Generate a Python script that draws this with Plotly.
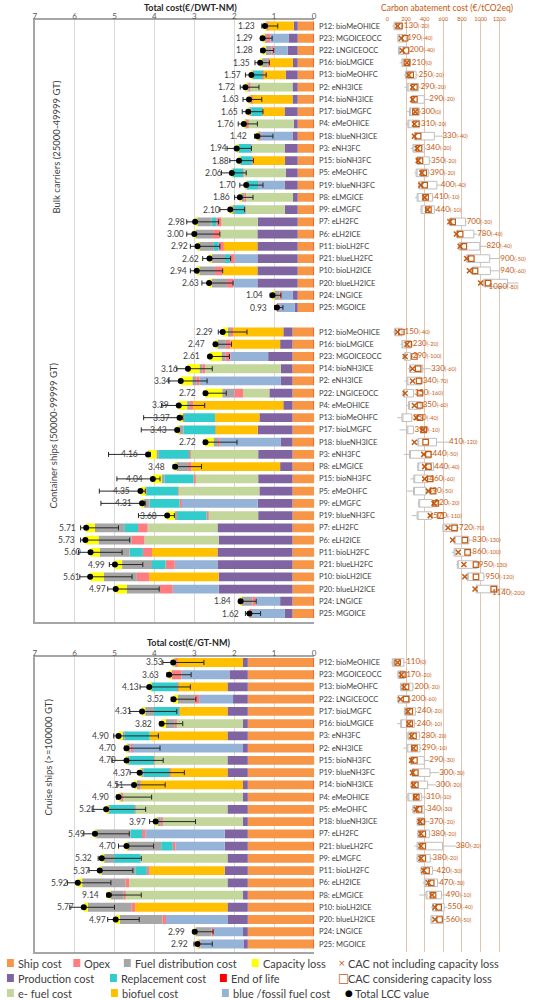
import plotly.graph_objects as go

FONT = "Lato"

# ---------------------------------------------------------------- data
# ---- Bulk carriers (25000-49999 GT), cost in EUR/DWT-NM
BULK_NAMES = ["P12: bioMeOHICE", "P23: MGOICEOCC", "P22: LNGICEOCC", "P16: bioLMGICE",
              "P13: bioMeOHFC", "P2: eNH3ICE", "P14: bioNH3ICE", "P17: bioLMGFC",
              "P4: eMeOHICE", "P18: blueNH3ICE", "P3: eNH3FC", "P15: bioNH3FC",
              "P5: eMeOHFC", "P19: blueNH3FC", "P8: eLMGICE", "P9: eLMGFC",
              "P7: eLH2FC", "P6: eLH2ICE", "P11: bioLH2FC", "P21: blueLH2FC",
              "P10: bioLH2ICE", "P20: blueLH2ICE", "P24: LNGICE", "P25: MGOICE"]
BULK_SHIP = [0.41, 0.41, 0.41, 0.41, 0.41, 0.41, 0.41, 0.41, 0.41, 0.41, 0.41, 0.41,
             0.41, 0.41, 0.41, 0.41, 0.41, 0.41, 0.41, 0.41, 0.41, 0.41, 0.41, 0.41]
BULK_PROD = [0.10, 0.23, 0.25, 0.12, 0.30, 0.13, 0.13, 0.33, 0.10, 0.13, 0.32, 0.32,
             0.30, 0.32, 0.12, 0.32, 1.00, 1.01, 1.01, 1.01, 1.01, 1.01, 0.12, 0.07]
BULK_FUEL = [0.63, 0.46, 0.35, 0.59, 0.57, 1.05, 1.02, 0.55, 1.15, 0.81, 0.84, 0.82,
             1.06, 0.66, 1.17, 0.99, 0.91, 0.94, 0.84, 0.57, 0.88, 0.60, 0.30, 0.40]
BULK_FTYPE = ["bio", "blue", "blue", "bio", "bio", "e", "bio", "bio", "e", "blue", "e", "bio",
              "e", "blue", "e", "e", "e", "e", "bio", "blue", "bio", "blue", "blue", "blue"]
BULK_OPEX = [0.05, 0.10, 0.06, 0.04, 0.01, 0.05, 0.03, 0.01, 0.05, 0.03, 0.01, 0.01,
             0.01, 0.01, 0.05, 0.01, 0.13, 0.17, 0.13, 0.12, 0.18, 0.16, 0.03, 0.05]
BULK_REPL = [0, 0, 0, 0, 0.24, 0, 0, 0.27, 0, 0, 0.31, 0.29,
             0.26, 0.28, 0, 0.28, 0.12, 0, 0.12, 0.12, 0, 0, 0, 0]
BULK_DIST = [0.02, 0.04, 0.14, 0.14, 0.01, 0.03, 0.02, 0.05, 0.02, 0.02, 0.02, 0.01,
             0.01, 0.01, 0.07, 0.04, 0.37, 0.44, 0.37, 0.34, 0.41, 0.38, 0.14, 0.0]
BULK_CAP = [0.02, 0.05, 0.07, 0.05, 0.03, 0.05, 0.02, 0.03, 0.03, 0.02, 0.03, 0.02,
            0.01, 0.01, 0.04, 0.05, 0.04, 0.03, 0.04, 0.05, 0.05, 0.07, 0.04, 0.0]
BULK_EOL = [-0.01, -0.01, -0.01, -0.01, -0.02, -0.01, -0.01, -0.02, -0.01, -0.01, -0.02, -0.02,
            -0.02, -0.02, -0.01, -0.02, -0.04, -0.04, -0.04, -0.04, -0.04, -0.04, -0.01, -0.01]
BULK_TOTAL = [1.23, 1.29, 1.28, 1.35, 1.57, 1.72, 1.63, 1.65, 1.76, 1.42, 1.94, 1.88,
              2.06, 1.70, 1.86, 2.10, 2.98, 3.00, 2.92, 2.62, 2.94, 2.63, 1.04, 0.93]
BULK_LABEL = ["1.23", "1.29", "1.28", "1.35", "1.57", "1.72", "1.63", "1.65", "1.76", "1.42",
              "1.94", "1.88", "2.06", "1.70", "1.86", "2.10", "2.98", "3.00", "2.92", "2.62",
              "2.94", "2.63", "1.04", "0.93"]
BULK_HIGH = [1.31, 1.33, 1.33, 1.48, 1.72, 1.85, 1.78, 1.80, 1.90, 1.49, 2.18, 2.11,
             2.32, 1.86, 1.99, 2.36, 3.19, 3.19, 3.10, 2.79, 3.10, 2.81, 1.10, 0.99]
BULK_LOW = [0.91, 1.05, 1.01, 1.12, 1.20, 1.38, 1.31, 1.28, 1.42, 1.03, 1.57, 1.52,
            1.70, 1.28, 1.53, 1.74, 2.39, 2.36, 2.36, 2.09, 2.29, 2.03, 0.83, 0.78]
# carbon abatement cost (EUR/tCO2eq), first 22 rows
BULK_CAC = [130, 190, 200, 210, 250, 290, 290, 300, 310, 330, 340, 350,
            390, 400, 410, 440, 700, 780, 820, 900, 940, 1080]
BULK_CAC_DIFF = [-20, -40, -40, 0, -20, -20, -20, 0, -20, -40, -20, -20,
                 -20, -40, -10, -10, -30, -40, -40, -50, -60, -80]
BULK_Q1 = [71, 113, 120, 156, 195, 212, 262, 237, 220, 290, 273, 319,
           308, 336, 319, 361, 673, 743, 768, 850, 910, 1034]
BULK_Q3 = [156, 202, 227, 248, 308, 333, 396, 343, 343, 503, 396, 450,
           439, 531, 485, 503, 839, 927, 991, 1097, 1104, 1289]
BULK_WLO = [53, 103, 113, 131, 177, 184, 255, 212, 195, 262, 248, 308,
            290, 326, 297, 354, 662, 733, 750, 839, 885, 998]
BULK_WHI = [177, 212, 237, 262, 333, 354, 450, 361, 361, 591, 414, 467,
            457, 573, 503, 520, 850, 963, 1062, 1211, 1211, 1405]

# ---- Container ships (50000-99999 GT)
CONT_NAMES = ["P12: bioMeOHICE", "P16: bioLMGICE", "P23: MGOICEOCC", "P14: bioNH3ICE",
              "P2: eNH3ICE", "P22: LNGICEOCC", "P4: eMeOHICE", "P13: bioMeOHFC",
              "P17: bioLMGFC", "P18: blueNH3ICE", "P3: eNH3FC", "P8: eLMGICE",
              "P15: bioNH3FC", "P5: eMeOHFC", "P9: eLMGFC", "P19: blueNH3FC",
              "P7: eLH2FC", "P6: eLH2ICE", "P11: bioLH2FC", "P21: blueLH2FC",
              "P10: bioLH2ICE", "P20: blueLH2ICE", "P24: LNGICE", "P25: MGOICE"]
CONT_SHIP = [0.54, 0.54, 0.54, 0.54, 0.54, 0.54, 0.54, 0.54, 0.54, 0.54, 0.54, 0.54,
             0.54, 0.54, 0.54, 0.54, 0.54, 0.54, 0.54, 0.54, 0.54, 0.54, 0.54, 0.54]
CONT_PROD = [0.23, 0.31, 0.61, 0.29, 0.29, 0.58, 0.23, 0.83, 0.87, 0.29, 0.86, 0.31,
             0.86, 0.83, 0.87, 0.86, 1.88, 1.85, 1.88, 1.88, 1.85, 1.85, 0.31, 0.19]
CONT_FUEL = [1.26, 1.24, 0.95, 1.90, 2.04, 0.66, 2.26, 1.11, 1.06, 1.54, 1.71, 2.22,
             1.58, 2.03, 1.93, 1.25, 1.75, 1.86, 1.64, 1.07, 1.74, 1.15, 0.61, 0.85]
CONT_FTYPE = ["bio", "bio", "blue", "e", "blue", "e", "bio", "bio", "bio", "blue", "e", "bio",
              "e", "e", "blue", "e", "e", "e", "bio", "blue", "bio", "blue", "blue", "blue"]
CONT_OPEX = [0.08, 0.12, 0.12, 0.07, 0.08, 0.21, 0.08, 0.0, 0.01, 0.04, 0.02, 0.09,
             0.04, 0.01, 0.03, 0.04, 0.24, 0.32, 0.23, 0.23, 0.31, 0.32, 0.08, 0.04]
CONT_REPL = [0, 0, 0, 0, 0, 0, 0, 0.78, 0.79, 0, 0.76, 0,
             0.73, 0.79, 0.75, 0.75, 0.33, 0, 0.33, 0.34, 0, 0, 0, 0]
CONT_DIST = [0.05, 0.21, 0.10, 0.07, 0.10, 0.31, 0.07, 0.03, 0.12, 0.11, 0.06, 0.30,
             0.07, 0.02, 0.15, 0.05, 0.75, 0.83, 0.75, 0.75, 0.83, 0.83, 0.28, 0.0]
CONT_CAP = [0.13, 0.05, 0.29, 0.29, 0.29, 0.42, 0.21, 0.08, 0.04, 0.20, 0.21, 0.02,
            0.22, 0.13, 0.04, 0.19, 0.22, 0.33, 0.23, 0.18, 0.34, 0.28, 0.02, 0.0]
CONT_EOL = [-0.02, -0.02, -0.02, -0.02, -0.02, -0.02, -0.02, -0.08, -0.08, -0.02, -0.08, -0.02,
            -0.08, -0.08, -0.08, -0.08, -0.08, -0.08, -0.08, -0.08, -0.08, -0.08, -0.02, -0.02]
CONT_TOTAL = [2.29, 2.47, 2.61, 3.16, 3.34, 2.72, 3.39, 3.37, 3.43, 2.72, 4.16, 3.48,
              4.04, 4.35, 4.31, 3.68, 5.71, 5.73, 5.60, 4.99, 5.61, 4.97, 1.84, 1.62]
CONT_LABEL = ["2.29", "2.47", "2.61", "3.16", "3.34", "2.72", "3.39", "3.37", "3.43", "2.72",
              "4.16", "3.48", "4.04", "4.35", "4.31", "3.68", "5.71", "5.73", "5.60", "4.99",
              "5.61", "4.97", "1.84", "1.62"]
CONT_HIGH = [2.40, 2.51, 2.64, 3.44, 3.65, 2.76, 3.82, 4.27, 4.33, 2.77, 5.15, 3.53,
             4.94, 5.38, 5.34, 4.40, 5.85, 5.85, 5.90, 5.13, 5.87, 5.17, 1.88, 1.72]
CONT_LOW = [1.68, 2.07, 2.12, 2.55, 2.68, 2.20, 2.74, 3.29, 3.38, 1.93, 4.10, 2.82,
            3.86, 4.23, 4.23, 3.50, 4.90, 4.62, 4.81, 4.29, 4.56, 3.88, 1.45, 1.34]
CONT_CAC = [150, 230, 290, 330, 340, 350, 350, 350, 390, 410, 440, 440,
            460, 490, 520, 570, 720, 830, 860, 950, 950, 1140]
CONT_CAC_DIFF = [-40, -20, -100, -60, -70, -160, -60, -40, -10, -120, -50, -40,
                 -60, -50, -20, -110, -70, -130, -100, -130, -120, -200]
CONT_Q1 = [78, 156, 184, 237, 209, 173, 227, 156, 209, 326, 237, 326,
           283, 280, 336, 319, 595, 715, 715, 750, 857, 952]
CONT_Q3 = [156, 255, 248, 379, 361, 280, 361, 262, 280, 527, 467, 496,
           432, 414, 485, 474, 750, 874, 892, 963, 1034, 1182]
CONT_WLO = [60, 142, 159, 220, 184, 156, 202, 106, 131, 319, 177, 319,
            248, 212, 326, 262, 584, 690, 690, 740, 821, 945]
CONT_WHI = [184, 273, 273, 467, 379, 290, 379, 273, 290, 662, 485, 503,
            450, 432, 503, 492, 768, 910, 910, 981, 1051, 1299]

# ---- Cruise ships (>=100000 GT), cost in EUR/GT-NM
CRU_NAMES = ["P12: bioMeOHICE", "P23: MGOICEOCC", "P13: bioMeOHFC", "P22: LNGICEOCC",
             "P17: bioLMGFC", "P16: bioLMGICE", "P3: eNH3FC", "P2: eNH3ICE",
             "P15: bioNH3FC", "P19: blueNH3FC", "P14: bioNH3ICE", "P4: eMeOHICE",
             "P5: eMeOHFC", "P18: blueNH3ICE", "P7: eLH2FC", "P21: blueLH2FC",
             "P9: eLMGFC", "P11: bioLH2FC", "P6: eLH2ICE", "P8: eLMGICE",
             "P10: bioLH2ICE", "P20: blueLH2ICE", "P24: LNGICE", "P25: MGOICE"]
CRU_SHIP = [1.66, 1.66, 1.66, 1.66, 1.66, 1.66, 1.66, 1.66, 1.66, 1.66, 1.66, 1.66,
            1.66, 1.66, 1.66, 1.66, 1.66, 1.66, 1.66, 1.66, 1.66, 1.66, 1.66, 1.66]
CRU_PROD = [0.12, 0.46, 0.51, 0.37, 0.51, 0.12, 0.51, 0.12, 0.51, 0.51, 0.12, 0.12,
            0.51, 0.12, 0.58, 0.58, 0.51, 0.58, 0.51, 0.12, 0.51, 0.51, 0.12, 0.11]
CRU_FUEL = [1.66, 1.20, 1.24, 0.85, 1.20, 1.68, 1.95, 2.78, 1.83, 1.44, 2.57, 3.00,
            2.31, 2.03, 1.99, 1.23, 2.18, 1.88, 2.46, 2.95, 2.31, 1.54, 0.75, 1.08]
CRU_FTYPE = ["bio", "blue", "bio", "blue", "bio", "e", "bio", "blue", "e", "bio", "bio", "e",
             "e", "e", "blue", "blue", "e", "bio", "e", "e", "bio", "blue", "blue", "blue"]
CRU_OPEX = [0.04, 0.25, 0.01, 0.12, 0.01, 0.03, 0.0, 0.04, 0.01, 0.02, 0.04, 0.05,
            0.01, 0.03, 0.08, 0.07, 0.0, 0.07, 0.10, 0.04, 0.10, 0.09, 0.04, 0.06]
CRU_REPL = [0, 0, 0.67, 0, 0.63, 0, 0.63, 0, 0.62, 0.65, 0, 0,
            0.64, 0, 0.29, 0.29, 0.66, 0.29, 0, 0, 0, 0, 0, 0]
CRU_DIST = [0.02, 0.0, 0.0, 0.41, 0.22, 0.22, 0.05, 0.08, 0.05, 0.06, 0.05, 0.03,
            0.02, 0.10, 0.87, 0.85, 0.25, 0.85, 1.08, 0.33, 1.09, 1.07, 0.40, 0.0]
CRU_CAP = [0.03, 0.06, 0.04, 0.11, 0.08, 0.11, 0.10, 0.02, 0.02, 0.03, 0.07, 0.04,
           0.06, 0.03, 0.02, 0.02, 0.06, 0.04, 0.11, 0.04, 0.10, 0.10, 0.02, 0.01]
CRU_EOL = [-0.02, -0.02, -0.06, -0.02, -0.06, -0.02, -0.06, -0.02, -0.06, -0.06, -0.02, -0.02,
           -0.06, -0.02, -0.05, -0.05, -0.06, -0.06, -0.04, -0.02, -0.04, -0.04, -0.02, -0.02]
CRU_TOTAL = [3.53, 3.63, 4.13, 3.52, 4.31, 3.82, 4.90, 4.70, 4.70, 4.37, 4.51, 4.90,
             5.21, 3.97, 5.49, 4.70, 5.32, 5.37, 5.92, 5.14, 5.77, 4.97, 2.99, 2.92]
CRU_LABEL = ["3.53", "3.63", "4.13", "3.52", "4.31", "3.82", "4.90", "4.70", "4.70", "4.37",
             "4.51", "4.90", "5.21", "3.97", "5.49", "4.70", "5.32", "5.37", "5.92", "9.14",
             "5.77", "4.97", "2.99", "2.92"]
CRU_HIGH = [3.79, 3.69, 4.36, 3.58, 4.62, 3.86, 5.02, 4.75, 5.06, 4.61, 4.94, 4.95,
            5.56, 4.12, 5.77, 4.90, 5.41, 5.64, 6.18, 5.19, 6.12, 5.17, 3.03, 3.01]
CRU_LOW = [2.76, 3.08, 3.10, 2.96, 3.44, 3.29, 3.90, 3.86, 3.78, 3.25, 3.73, 4.07,
           4.22, 2.97, 4.63, 4.02, 4.33, 4.54, 5.09, 4.33, 5.00, 4.38, 2.53, 2.55]
CRU_CAC = [110, 170, 200, 200, 240, 240, 280, 290, 290, 300, 300, 310,
           340, 370, 380, 380, 380, 420, 470, 490, 550, 560]
CRU_CAC_DIFF = [0, -20, -20, -60, -20, -10, -20, -10, -30, -30, -20, -10,
                -30, -20, -20, -20, -20, -30, -30, -10, -40, -50]
CRU_Q1 = [53, 113, 142, 113, 184, 142, 219, 209, 248, 265, 255, 219,
          273, 319, 326, 319, 319, 361, 396, 414, 485, 467]
CRU_Q3 = [177, 184, 273, 237, 301, 290, 343, 350, 396, 457, 432, 368,
          396, 389, 450, 591, 460, 485, 538, 580, 609, 602]
CRU_WLO = [42, 106, 131, 106, 173, 106, 202, 173, 237, 255, 244, 195,
           255, 308, 315, 290, 308, 350, 379, 343, 467, 460]
CRU_WHI = [202, 202, 290, 255, 319, 315, 361, 368, 450, 556, 520, 414,
           425, 450, 467, 733, 485, 527, 556, 627, 644, 627]

COST_TICKS = [0, 1, 2, 3, 4, 5, 6, 7]
CAC_TICKS = [0, 200, 400, 600, 800, 1000, 1200]

SECTION_TITLES = ["Bulk carriers (25000-49999 GT)", "Container ships (50000-99999 GT)",
                  "Cruise ships (>=100000 GT)"]
COST_TITLE_TOP = "Total cost(€/DWT-NM)"
COST_TITLE_BOTTOM = "Total cost(€/GT-NM)"
CAC_TITLE = "Carbon abatement cost (€/tCO2eq)"

# ---------------------------------------------------------------- styles
C_SHIP = "#F79646"
C_PROD = "#8064A2"
C_EFUEL = "#C3D69B"
C_BIO = "#FFC000"
C_BLUE = "#95B3D7"
C_OPEX = "#FF7C80"
C_REPL = "#33CCCC"
C_DIST = "#A6A6A6"
C_CAP = "#FFFF00"
C_EOL = "#FF0000"
C_CAC = "#C55A11"
C_TXT = "#404040"

W, H = 534, 1000
BAR_W = 0.72
ROW_PX = 12.24          # pixel height of one row
ROW0_PX = 26            # pixel centre of the first row


def px2x(p):
    return p / W


def px2y(p):
    return 1 - p / H


def ypx_to_idx(p):
    return (p - ROW0_PX) / ROW_PX


sections = [
    dict(names=BULK_NAMES, ship=BULK_SHIP, prod=BULK_PROD, fuel=BULK_FUEL, ftype=BULK_FTYPE,
         opex=BULK_OPEX, repl=BULK_REPL, dist=BULK_DIST, cap=BULK_CAP, eol=BULK_EOL,
         total=BULK_TOTAL, label=BULK_LABEL, high=BULK_HIGH, low=BULK_LOW, cac=BULK_CAC,
         diff=BULK_CAC_DIFF, q1=BULK_Q1, q3=BULK_Q3, wlo=BULK_WLO, whi=BULK_WHI,
         offset=0, xa="x", ya="y"),
    dict(names=CONT_NAMES, ship=CONT_SHIP, prod=CONT_PROD, fuel=CONT_FUEL, ftype=CONT_FTYPE,
         opex=CONT_OPEX, repl=CONT_REPL, dist=CONT_DIST, cap=CONT_CAP, eol=CONT_EOL,
         total=CONT_TOTAL, label=CONT_LABEL, high=CONT_HIGH, low=CONT_LOW, cac=CONT_CAC,
         diff=CONT_CAC_DIFF, q1=CONT_Q1, q3=CONT_Q3, wlo=CONT_WLO, whi=CONT_WHI,
         offset=25, xa="x", ya="y"),
    dict(names=CRU_NAMES, ship=CRU_SHIP, prod=CRU_PROD, fuel=CRU_FUEL, ftype=CRU_FTYPE,
         opex=CRU_OPEX, repl=CRU_REPL, dist=CRU_DIST, cap=CRU_CAP, eol=CRU_EOL,
         total=CRU_TOTAL, label=CRU_LABEL, high=CRU_HIGH, low=CRU_LOW, cac=CRU_CAC,
         diff=CRU_CAC_DIFF, q1=CRU_Q1, q3=CRU_Q3, wlo=CRU_WLO, whi=CRU_WHI,
         offset=52, xa="x3", ya="y3"),
]

fig = go.Figure()
annotations = []


def add_bar(vals, pos, color, xa, ya):
    fig.add_trace(go.Bar(x=vals, y=pos, orientation="h", width=BAR_W,
                         marker=dict(color=color, line=dict(width=0)),
                         xaxis=xa, yaxis=ya, showlegend=False, hoverinfo="skip"))


for s in sections:
    n = len(s["names"])
    pos = [s["offset"] + i for i in range(n)]
    xa, ya = s["xa"], s["ya"]
    efuel = [v if t == "e" else 0 for v, t in zip(s["fuel"], s["ftype"])]
    bio = [v if t == "bio" else 0 for v, t in zip(s["fuel"], s["ftype"])]
    blue = [v if t == "blue" else 0 for v, t in zip(s["fuel"], s["ftype"])]
    add_bar(s["ship"], pos, C_SHIP, xa, ya)
    add_bar(s["prod"], pos, C_PROD, xa, ya)
    add_bar(efuel, pos, C_EFUEL, xa, ya)
    add_bar(bio, pos, C_BIO, xa, ya)
    add_bar(blue, pos, C_BLUE, xa, ya)
    add_bar(s["opex"], pos, C_OPEX, xa, ya)
    add_bar(s["repl"], pos, C_REPL, xa, ya)
    add_bar(s["dist"], pos, C_DIST, xa, ya)
    add_bar(s["cap"], pos, C_CAP, xa, ya)
    add_bar(s["eol"], pos, C_EOL, xa, ya)

    # total LCC dot + range
    fig.add_trace(go.Scatter(
        x=s["total"], y=pos, mode="markers", xaxis=xa, yaxis=ya,
        marker=dict(color="black", size=6),
        error_x=dict(type="data", symmetric=False,
                     array=[h - t for h, t in zip(s["high"], s["total"])],
                     arrayminus=[t - l for t, l in zip(s["total"], s["low"])],
                     color="#262626", thickness=1, width=2.5),
        showlegend=False, hoverinfo="skip"))

    for p, t, lab, name in zip(pos, s["total"], s["label"], s["names"]):
        annotations.append(dict(x=t, y=p, xref=xa, yref=ya, text=lab, showarrow=False,
                                xanchor="right", yanchor="middle", xshift=-8,
                                font=dict(family=FONT, size=8.5, color=C_TXT)))
        annotations.append(dict(x=0, y=p, xref=xa, yref=ya, text=name, showarrow=False,
                                xanchor="left", yanchor="middle", xshift=3,
                                font=dict(family=FONT, size=7.5, color=C_TXT)))

    # carbon abatement cost panel
    m = len(s["cac"])
    cpos = [s["offset"] + i for i in range(m)]
    fig.add_trace(go.Box(
        y=cpos, q1=s["q1"], median=s["q1"], q3=s["q3"],
        lowerfence=s["wlo"], upperfence=s["whi"], orientation="h",
        xaxis="x2", yaxis="y2", width=0.62, whiskerwidth=0,
        fillcolor="white", line=dict(color="#BFBFBF", width=1),
        boxpoints=False, showlegend=False, hoverinfo="skip"))
    fig.add_trace(go.Scatter(
        x=[c + d for c, d in zip(s["cac"], s["diff"])], y=cpos, mode="markers",
        xaxis="x2", yaxis="y2",
        marker=dict(symbol="x-thin-open", size=5, color=C_CAC,
                    line=dict(color=C_CAC, width=1.5)),
        showlegend=False, hoverinfo="skip"))
    fig.add_trace(go.Scatter(
        x=s["cac"], y=cpos, mode="markers", xaxis="x2", yaxis="y2",
        marker=dict(symbol="square-open", size=5.5, color=C_CAC,
                    line=dict(color=C_CAC, width=1.2)),
        showlegend=False, hoverinfo="skip"))
    fig.add_trace(go.Scatter(
        x=s["whi"], y=cpos, mode="text", xaxis="x2", yaxis="y2", cliponaxis=False,
        text=[f"{c}<span style='font-size:5.5px'>({d})</span>" for c, d in zip(s["cac"], s["diff"])],
        textposition=["bottom left" if w >= 1350 else ("bottom center" if w > 1250 else "middle right")
                      for w in s["whi"]],
        textfont=dict(family=FONT, size=8, color=C_CAC),
        showlegend=False, hoverinfo="skip"))

# ---------------------------------------------------------------- layout
cost_left, cost_right = 33, 315
cac0_px, cac_unit = 389, (502 - 389) / 1200
cac_range = [-10, 1470]

axis_common = dict(range=[7, 0], tickvals=COST_TICKS, side="top", ticks="",
                   tickfont=dict(family=FONT, size=8, color="#595959"),
                   ticklabelstandoff=-4,
                   showgrid=True, gridcolor="#D9D9D9", gridwidth=1, zeroline=False,
                   showline=True, linecolor="#A6A6A6", linewidth=1.5, mirror=True,
                   domain=[px2x(cost_left), px2x(cost_right)], fixedrange=True)

fig.update_layout(
    width=W, height=H, margin=dict(l=0, r=0, t=0, b=0), autosize=False,
    paper_bgcolor="white", plot_bgcolor="rgba(0,0,0,0)",
    barmode="relative", showlegend=False,
    font=dict(family=FONT, color=C_TXT),
    xaxis=dict(anchor="y", **axis_common),
    xaxis3=dict(anchor="y3", **axis_common),
    yaxis=dict(domain=[px2y(622), px2y(20)], range=[ypx_to_idx(622), ypx_to_idx(20)],
               showticklabels=False, showgrid=False, zeroline=False, ticks="",
               showline=True, linecolor="#A6A6A6", linewidth=1.5, anchor="x"),
    yaxis3=dict(domain=[px2y(952), px2y(657)], range=[ypx_to_idx(952), ypx_to_idx(657)],
                showticklabels=False, showgrid=False, zeroline=False, ticks="",
                showline=True, linecolor="#A6A6A6", linewidth=1.5, anchor="x3"),
    xaxis2=dict(anchor="y2", side="top", range=cac_range, tickvals=CAC_TICKS,
                domain=[px2x(cac0_px + cac_range[0] * cac_unit), px2x(cac0_px + cac_range[1] * cac_unit)],
                tickfont=dict(family=FONT, size=5.5, color=C_CAC), ticks="",
                ticklabelstandoff=-3,
                showgrid=True, gridcolor="#E3C6B0", gridwidth=1, zeroline=False,
                showline=False),
    yaxis2=dict(anchor="x2", domain=[px2y(952), px2y(20)],
                range=[ypx_to_idx(952), ypx_to_idx(20)],
                showticklabels=False, showgrid=False, zeroline=False, ticks=""),
)

# titles
annotations.append(dict(x=px2x(190), y=px2y(7), xref="paper", yref="paper", showarrow=False,
                        text=f"<b>{COST_TITLE_TOP}</b>", xanchor="center", yanchor="middle",
                        font=dict(family=FONT, size=9, color="#262626")))
annotations.append(dict(x=px2x(188), y=px2y(642), xref="paper", yref="paper", showarrow=False,
                        text=f"<b>{COST_TITLE_BOTTOM}</b>", xanchor="center", yanchor="middle",
                        font=dict(family=FONT, size=9, color="#262626")))
annotations.append(dict(x=px2x(449), y=px2y(8), xref="paper", yref="paper", showarrow=False,
                        text=CAC_TITLE, xanchor="center", yanchor="middle",
                        font=dict(family=FONT, size=8.5, color=C_CAC)))
for title, (cx, cy) in zip(SECTION_TITLES, [(55, 147), (52, 436), (46, 757)]):
    annotations.append(dict(x=px2x(cx), y=px2y(cy), xref="paper", yref="paper",
                            showarrow=False, text=title, textangle=-90,
                            xanchor="center", yanchor="middle",
                            font=dict(family=FONT, size=9.5, color=C_TXT)))

# legend (manual, three rows)
LEGEND_SWATCHES = [
    ("Ship cost", C_SHIP, 5, 963), ("Opex", C_OPEX, 72, 963),
    ("Fuel distribution cost", C_DIST, 123, 963), ("Capacity loss", C_CAP, 252, 963),
    ("Production cost", C_PROD, 5, 978), ("Replacement cost", C_REPL, 109, 978),
    ("End of life", C_EOL, 220, 978),
    ("e- fuel cost", C_EFUEL, 5, 993), ("biofuel cost", C_BIO, 110, 993),
    ("blue /fossil fuel cost", C_BLUE, 222, 993),
]
shapes = []
for label, color, x0, yc in LEGEND_SWATCHES:
    shapes.append(dict(type="rect", xref="paper", yref="paper",
                       x0=px2x(x0), x1=px2x(x0 + 7), y0=px2y(yc + 4), y1=px2y(yc - 4),
                       fillcolor=color, line=dict(width=0)))
    annotations.append(dict(x=px2x(x0 + 9), y=px2y(yc), xref="paper", yref="paper",
                            showarrow=False, text=label, xanchor="left", yanchor="middle",
                            font=dict(family=FONT, size=11, color=C_TXT)))

LEGEND_SYMBOLS = [
    ("×", C_CAC, "CAC not including capacity loss", 337, 963),
    ("□", C_CAC, "CAC considering capacity loss", 337, 978),
    ("●", "black", "Total LCC value", 344, 993),
]
for sym, color, label, x0, yc in LEGEND_SYMBOLS:
    annotations.append(dict(x=px2x(x0), y=px2y(yc), xref="paper", yref="paper",
                            showarrow=False, text=sym, xanchor="left", yanchor="middle",
                            font=dict(family="DejaVu Sans", size=9 if sym != "□" else 12,
                                      color=color)))
    annotations.append(dict(x=px2x(x0 + 10), y=px2y(yc),
                            xref="paper", yref="paper",
                            showarrow=False, text=label, xanchor="left", yanchor="middle",
                            font=dict(family=FONT, size=11, color=C_TXT)))

fig.update_layout(annotations=annotations, shapes=shapes)

fig.write_html("out.html", config={"displayModeBar": False},
               post_script="document.body.style.margin='0';document.body.style.padding='0';")
